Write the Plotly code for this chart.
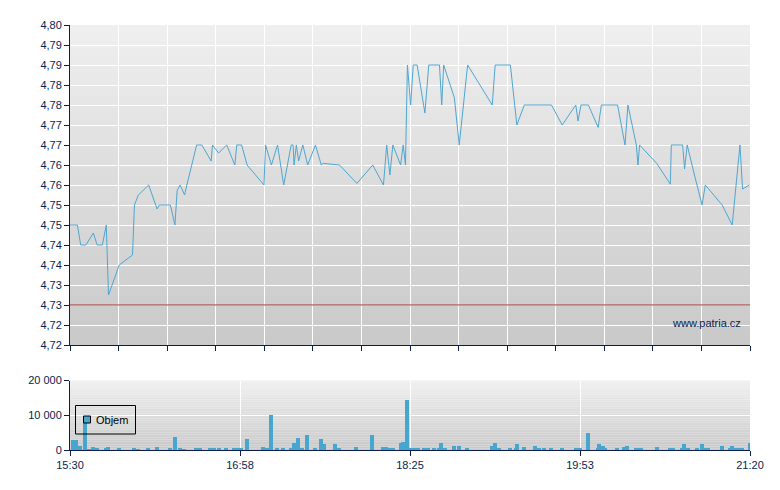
import plotly.graph_objects as go

DAY = "2024-01-01 "

price_times = ["15:30:00", "15:33:50", "15:35:30", "15:38:10", "15:42:00", "15:44:00", "15:46:40", "15:48:40",
               "15:49:50", "15:55:20", "16:02:10", "16:03:10", "16:05:10", "16:10:30", "16:14:50", "16:16:00",
               "16:21:40", "16:24:00", "16:25:10", "16:26:40", "16:29:00", "16:29:40", "16:35:10", "16:37:50",
               "16:42:40", "16:43:20", "16:46:30", "16:50:40", "16:54:50", "16:55:50", "16:58:20", "17:01:10",
               "17:09:50", "17:10:40", "17:13:40", "17:16:50", "17:20:00", "17:23:50", "17:24:50", "17:25:20",
               "17:26:30", "17:27:40", "17:29:50", "17:32:20", "17:36:20", "17:39:20", "17:40:20", "17:48:40",
               "17:57:40", "18:05:50", "18:11:20", "18:13:00", "18:14:40", "18:16:10", "18:20:10", "18:21:30",
               "18:22:40", "18:23:40", "18:25:20", "18:26:40", "18:28:40", "18:32:40", "18:34:40", "18:40:10",
               "18:41:20", "18:42:20", "18:47:50", "18:50:20", "18:54:40", "19:07:20", "19:08:50", "19:16:40",
               "19:20:00", "19:23:50", "19:37:50", "19:43:20", "19:50:20", "19:51:30", "19:53:00", "19:56:50",
               "20:01:50", "20:03:30", "20:11:50", "20:15:40", "20:17:10", "20:21:30", "20:22:20", "20:23:10",
               "20:32:00", "20:39:00", "20:39:30", "20:45:20", "20:46:20", "20:47:40", "20:51:40", "20:55:20",
               "20:57:00", "21:05:40", "21:10:50", "21:14:50", "21:16:10", "21:19:40"]
prices = [4.750, 4.750, 4.745, 4.745, 4.748, 4.745, 4.745, 4.750,
          4.7325, 4.740, 4.7425, 4.755, 4.7575, 4.760, 4.754, 4.755,
          4.755, 4.750, 4.7587, 4.760, 4.7575, 4.759, 4.770, 4.770,
          4.766, 4.770, 4.768, 4.770, 4.765, 4.770, 4.770, 4.765,
          4.760, 4.770, 4.765, 4.770, 4.760, 4.770, 4.770, 4.765,
          4.770, 4.766, 4.770, 4.765, 4.770, 4.765, 4.7654, 4.765,
          4.7604, 4.765, 4.760, 4.770, 4.7625, 4.770, 4.765, 4.770,
          4.765, 4.790, 4.780, 4.790, 4.790, 4.778, 4.790, 4.790,
          4.780, 4.790, 4.7818, 4.770, 4.790, 4.780, 4.790, 4.790,
          4.775, 4.780, 4.780, 4.775, 4.780, 4.776, 4.780, 4.780,
          4.7744, 4.780, 4.780, 4.770, 4.780, 4.770, 4.765, 4.770,
          4.7654, 4.7602, 4.770, 4.770, 4.764, 4.770, 4.762, 4.755,
          4.760, 4.755, 4.750, 4.770, 4.759, 4.760]

vol_times = ["15:31:30", "15:33:20", "15:35:10", "15:37:40", "15:39:40", "15:41:50", "15:43:50", "15:48:30",
             "15:49:30", "15:55:10", "16:02:50", "16:05:00", "16:10:10", "16:14:50", "16:21:20", "16:24:00",
             "16:26:40", "16:28:40", "16:34:50", "16:36:50", "16:42:00", "16:44:10", "16:46:40", "16:50:20",
             "16:54:20", "16:56:20", "16:58:00", "17:01:10", "17:09:20", "17:11:20", "17:13:20", "17:16:30",
             "17:19:40", "17:23:40", "17:25:20", "17:27:20", "17:29:20", "17:32:00", "17:36:10", "17:39:10",
             "17:40:40", "17:46:20", "17:48:20", "17:57:10", "18:05:20", "18:11:10", "18:12:40", "18:14:10",
             "18:16:10", "18:20:20", "18:21:20", "18:23:20", "18:25:30", "18:27:00", "18:29:10", "18:32:10",
             "18:34:10", "18:37:20", "18:39:50", "18:40:50", "18:43:00", "18:47:40", "18:50:10", "18:54:20",
             "19:07:10", "19:08:40", "19:10:50", "19:16:20", "19:19:30", "19:20:00", "19:23:40", "19:29:20",
             "19:31:20", "19:33:50", "19:37:30", "19:43:10", "19:50:20", "19:52:30", "19:56:40", "20:01:40",
             "20:02:10", "20:04:20", "20:05:20", "20:11:30", "20:15:10", "20:16:40", "20:21:20", "20:21:50",
             "20:23:50", "20:32:10", "20:38:50", "20:40:20", "20:45:00", "20:46:00", "20:48:10", "20:52:40",
             "20:55:20", "20:57:20", "20:58:20", "21:05:40", "21:09:40", "21:10:40", "21:12:50", "21:14:20",
             "21:15:50", "21:20:00"]
volumes = [2900, 2900, 1440, 8500, 300, 960, 580, 580,
           1150, 580, 860, 290, 580, 1150, 580, 3750,
           580, 290, 580, 580, 860, 580, 860, 580,
           860, 580, 580, 3170, 1150, 860, 10080, 580,
           860, 580, 2020, 3460, 580, 4600, 580, 3170,
           1730, 1730, 580, 1150, 4600, 1150, 1150, 580,
           580, 2300, 2590, 14400, 860, 580, 580, 860,
           580, 580, 580, 2020, 580, 1440, 1440, 580,
           1440, 2020, 580, 580, 580, 1730, 1150, 1440,
           580, 580, 580, 860, 580, 580, 5180, 580,
           1730, 1440, 580, 580, 1150, 1440, 580, 860,
           580, 1150, 580, 580, 580, 1730, 580, 580,
           1730, 860, 580, 1440, 860, 1440, 860, 580,
           580, 2020]

price_tickvals = [4.720, 4.725, 4.730, 4.735, 4.740, 4.745, 4.750, 4.755, 4.760,
                  4.765, 4.770, 4.775, 4.780, 4.785, 4.790, 4.795, 4.800]
price_ticktext = ["4,72", "4,72", "4,73", "4,73", "4,74", "4,74", "4,75", "4,75", "4,76",
                  "4,76", "4,77", "4,77", "4,78", "4,78", "4,79", "4,79", "4,80"]
ref_price = 4.73

vol_tickvals = [0, 10000, 20000]
vol_ticktext = ["0", "10 000", "20 000"]

time_tickvals = ["15:30:00", "16:57:30", "18:25:00", "19:52:30", "21:20:00"]
time_ticktext = ["15:30", "16:58", "18:25", "19:53", "21:20"]

legend_label = "Objem"
watermark = "www.patria.cz"

LINE_BLUE = "#4ea6d0"
BAR_BLUE = "#46a6d0"
NAVY = "#0b1d4d"
FONT = "Liberation Sans"

# page offset of the plot div (default body margin of 8px)
OFF = 8
PLOT_L, PLOT_R, PLOT_T, PLOT_B = 70, 750, 25, 450   # wanted page coordinates
W, H = 780, 490
ml, mt = PLOT_L - OFF, PLOT_T - OFF
mr, mb = W - (PLOT_R - OFF), H - (PLOT_B - OFF)
PW, PH = PLOT_R - PLOT_L, PLOT_B - PLOT_T


def px(xp):
    return (xp - PLOT_L) / PW


def py(yp):
    return (PLOT_B - yp) / PH


fig = go.Figure()
fig.add_trace(go.Scatter(
    x=[DAY + t for t in price_times], y=prices, mode="lines",
    line=dict(color=LINE_BLUE, width=1), showlegend=False,
    xaxis="x", yaxis="y"))
fig.add_trace(go.Bar(
    x=[DAY + t for t in vol_times], y=volumes, width=118000, name=legend_label,
    marker=dict(color=BAR_BLUE, line=dict(width=0)), showlegend=False,
    xaxis="x2", yaxis="y2"))

shapes = []


def gradient(xref, yref, top, bottom, n=40):
    out = []
    for i in range(n):
        f = i / (n - 1)
        c = [round(top[k] + (bottom[k] - top[k]) * f) for k in range(3)]
        out.append(dict(type="rect", xref=xref, yref=yref, x0=0, x1=1,
                        y0=1 - (i + 1) / n, y1=1 - i / n, layer="below",
                        line=dict(width=0), fillcolor="rgb(%d,%d,%d)" % tuple(c)))
    return out


shapes += gradient("x domain", "y domain", (239, 239, 239), (201, 201, 201))
shapes += gradient("x2 domain", "y2 domain", (239, 239, 239), (201, 201, 201))
shapes.append(dict(type="line", xref="x domain", yref="y", x0=0, x1=1, y0=ref_price, y1=ref_price,
                   line=dict(color="#a82c2c", width=1), layer="above"))
# hand-drawn legend box for the volume series
shapes.append(dict(type="rect", xref="paper", yref="paper",
                   x0=px(75.5), x1=px(135.5), y0=py(434), y1=py(405.5),
                   line=dict(color="black", width=1), fillcolor="rgba(0,0,0,0)", layer="above"))
shapes.append(dict(type="rect", xref="paper", yref="paper",
                   x0=px(83.5), x1=px(90.5), y0=py(423), y1=py(416),
                   line=dict(color="black", width=1), fillcolor=BAR_BLUE, layer="above"))

x_range = [DAY + "15:30:00", DAY + "21:20:00"]
axis_common = dict(showgrid=True, gridcolor="white", gridwidth=1,
                   showline=True, linecolor=NAVY, linewidth=1,
                   ticks="outside", ticklen=5, tickcolor=NAVY, zeroline=False,
                   tickfont=dict(family=FONT, size=11, color=NAVY))

fig.update_layout(
    width=W, height=H,
    margin=dict(l=ml, r=mr, t=mt, b=mb, autoexpand=False),
    paper_bgcolor="white", plot_bgcolor="rgba(0,0,0,0)",
    font=dict(family=FONT, size=11, color=NAVY),
    shapes=shapes,
    xaxis=dict(domain=[0, 1], anchor="y", type="date", range=x_range,
               tick0=DAY + "15:30:00", dtick=25 * 60 * 1000, showticklabels=False,
               **axis_common),
    yaxis=dict(domain=[py(345), 1], anchor="x", range=[4.72, 4.80],
               tickvals=price_tickvals, ticktext=price_ticktext, **axis_common),
    xaxis2=dict(domain=[0, 1], anchor="y2", type="date", range=x_range,
                tickvals=[DAY + t for t in time_tickvals], ticktext=time_ticktext,
                **axis_common),
    yaxis2=dict(domain=[0, py(380.5)], anchor="x2", range=[0, 20000],
                tickvals=vol_tickvals, ticktext=vol_ticktext, **axis_common),
    showlegend=False,
    bargap=0,
    annotations=[
        dict(text=watermark, xref="paper", yref="paper",
             x=px(743), y=py(323), xanchor="right", yanchor="middle",
             showarrow=False, font=dict(family=FONT, size=11, color=NAVY)),
        dict(text=legend_label, xref="paper", yref="paper",
             x=px(94), y=py(420), xanchor="left", yanchor="middle",
             showarrow=False, font=dict(family=FONT, size=11, color="black")),
    ],
)

fig.write_html("out.html")
